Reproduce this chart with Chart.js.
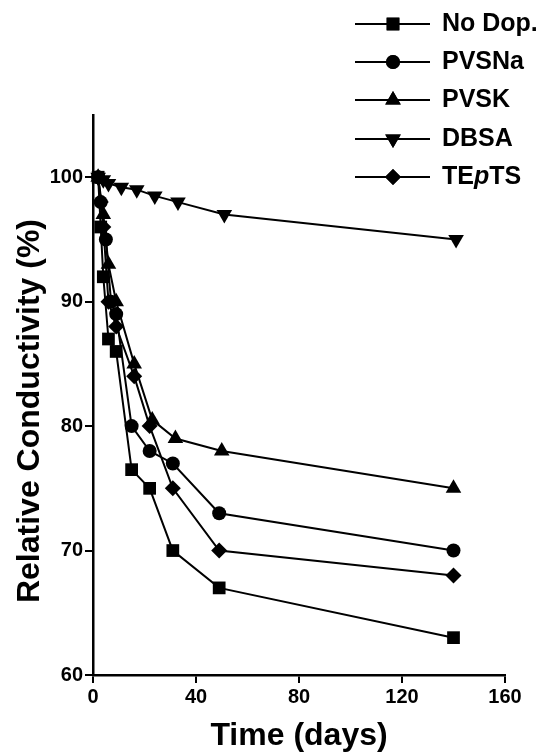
<!DOCTYPE html>
<html><head><meta charset="utf-8">
<script src="https://cdn.jsdelivr.net/npm/chart.js@4.4.1/dist/chart.umd.min.js"></script>
<style>html,body{margin:0;padding:0;background:#fff;}canvas{display:block;}</style>
</head><body>
<canvas id="c" width="555" height="755"></canvas>
<script>
// ---- data ----
const seriesNames = ['No Dop.', 'PVSNa', 'PVSK', 'DBSA', 'TEpTS'];
const daysNoDop = [2, 3, 4, 6, 9, 15, 22, 31, 49, 140];
const valsNoDop = [100, 96, 92, 87, 86, 76.5, 75, 70, 67, 63];
const daysPVSNa = [2, 3, 5, 7, 9, 15, 22, 31, 49, 140];
const valsPVSNa = [100, 98, 95, 90, 89, 80, 78, 77, 73, 70];
const daysPVSK = [2, 4, 6, 9, 16, 23, 32, 50, 140];
const valsPVSK = [100, 97, 93, 90, 85, 80.5, 79, 78, 75];
const daysDBSA = [2, 4, 6, 11, 17, 24, 33, 51, 141];
const valsDBSA = [100, 99.8, 99.5, 99.2, 99, 98.5, 98, 97, 95];
const daysTEpTS = [2, 3, 4, 6, 9, 16, 22, 31, 49, 140];
const valsTEpTS = [100, 98, 96, 90, 88, 84, 80, 75, 70, 68];
const xTicks = [0, 40, 80, 120, 160];
const yTicks = [60, 70, 80, 90, 100];

const FONT = "'Liberation Sans', Arial, Helvetica, sans-serif";
const styles = [
  {pointStyle: 'rect', radius: 9, rotation: 0},
  {pointStyle: 'circle', radius: 7, rotation: 0},
  {pointStyle: 'triangle', radius: 9, rotation: 0},
  {pointStyle: 'triangle', radius: 9, rotation: 180},
  {pointStyle: 'rectRot', radius: 8, rotation: 0}
];
const allDays = [daysNoDop, daysPVSNa, daysPVSK, daysDBSA, daysTEpTS];
const allVals = [valsNoDop, valsPVSNa, valsPVSK, valsDBSA, valsTEpTS];

const datasets = seriesNames.map((name, i) => ({
  label: name,
  data: allDays[i].map((d, k) => ({x: d, y: allVals[i][k]})),
  borderColor: '#000',
  backgroundColor: '#000',
  borderWidth: 2,
  pointStyle: styles[i].pointStyle,
  pointRadius: styles[i].radius,
  pointRotation: styles[i].rotation,
  pointBorderWidth: 0,
  pointBackgroundColor: '#000',
  tension: 0,
  clip: false
}));

const legendPlugin = {
  id: 'customLegend',
  afterDraw(chart) {
    const ctx = chart.ctx;
    const rows = [24, 62, 100, 139, 177];
    ctx.save();
    chart.data.datasets.forEach((ds, i) => {
      const y = rows[i];
      ctx.strokeStyle = '#000';
      ctx.lineWidth = 2;
      ctx.beginPath();
      ctx.moveTo(355, y); ctx.lineTo(430, y);
      ctx.stroke();
      ctx.fillStyle = '#000';
      Chart.helpers.drawPoint(ctx, {pointStyle: styles[i].pointStyle, radius: styles[i].radius, rotation: styles[i].rotation, borderWidth: 0}, 393, y);
      ctx.fill();
      ctx.textBaseline = 'middle';
      ctx.textAlign = 'left';
      const fb = 'bold 25px ' + FONT;
      if (ds.label === 'TEpTS') {
        let x = 442;
        ctx.font = fb; ctx.fillText('TE', x, y); x += ctx.measureText('TE').width;
        ctx.font = 'italic bold 25px ' + FONT; ctx.fillText('p', x, y); x += ctx.measureText('p').width;
        ctx.font = fb; ctx.fillText('TS', x, y);
      } else {
        ctx.font = fb;
        ctx.fillText(ds.label, 442, y);
      }
    });
    ctx.restore();
  }
};

new Chart(document.getElementById('c'), {
  type: 'line',
  data: {datasets},
  options: {
    responsive: false,
    animation: false,
    layout: {padding: {top: 115, right: 50, bottom: 0, left: 0}},
    plugins: {legend: {display: false}, tooltip: {enabled: false}},
    scales: {
      x: {
        type: 'linear', min: 0, max: 160,
        afterBuildTicks: s => { s.ticks = xTicks.map(v => ({value: v})); },
        afterFit: s => { s.height = 80; },
        ticks: {font: {family: FONT, size: 20, weight: 'bold'}, color: '#000', padding: 2, maxRotation: 0},
        grid: {drawOnChartArea: false, drawTicks: true, tickLength: 8, color: '#000', lineWidth: 2},
        border: {display: true, color: '#000', width: 2.5},
        title: {display: true, text: 'Time (days)', font: {family: FONT, size: 32, weight: 'bold'}, color: '#000', padding: {top: 0, bottom: 0}}
      },
      y: {
        type: 'linear', min: 60, max: 105,
        afterBuildTicks: s => { s.ticks = yTicks.map(v => ({value: v})); },
        afterFit: s => { s.width = 93; },
        ticks: {font: {family: FONT, size: 20, weight: 'bold'}, color: '#000', padding: 2},
        grid: {drawOnChartArea: false, drawTicks: true, tickLength: 8, color: '#000', lineWidth: 2},
        border: {display: true, color: '#000', width: 2.5},
        title: {display: true, text: 'Relative Conductivity (%)\u2002\u2002', font: {family: FONT, size: 32, weight: 'bold'}, color: '#000', padding: {top: 11, bottom: 0}}
      }
    }
  },
  plugins: [legendPlugin]
});
</script>
</body></html>
